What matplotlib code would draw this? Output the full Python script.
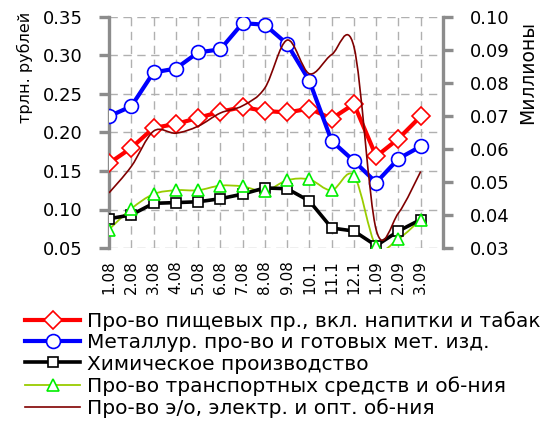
import matplotlib
matplotlib.use("Agg")
import matplotlib.pyplot as plt
from matplotlib.path import Path
from matplotlib.patches import PathPatch
from matplotlib.lines import Line2D
from matplotlib.ticker import FormatStrFormatter

# месяцы (последняя категория пустая)
months = ["1.08", "2.08", "3.08", "4.08", "5.08", "6.08", "7.08", "8.08",
          "9.08", "10.1", "11.1", "12.1", "1.09", "2.09", "3.09"]

# трлн. рублей
pishch = [0.160, 0.180, 0.206, 0.211, 0.219, 0.227, 0.233, 0.228,
          0.226, 0.231, 0.218, 0.237, 0.169, 0.192, 0.221]
metall = [0.221, 0.234, 0.278, 0.283, 0.304, 0.308, 0.342, 0.340,
          0.315, 0.267, 0.189, 0.163, 0.135, 0.166, 0.182]
khim = [0.088, 0.093, 0.108, 0.109, 0.110, 0.114, 0.120, 0.128,
        0.127, 0.111, 0.076, 0.072, 0.053, 0.072, 0.087]
transp = [0.074, 0.101, 0.120, 0.125, 0.125, 0.131, 0.130, 0.124,
          0.138, 0.139, 0.125, 0.144, 0.052, 0.062, 0.087]

# миллионы
elektr = [0.0467, 0.0547, 0.0654, 0.0648, 0.0669, 0.0709, 0.0731, 0.0785,
          0.0930, 0.0828, 0.0886, 0.0910, 0.0355, 0.0406, 0.0532]

labels = [
    "Про-во пищевых пр., вкл. напитки и табак",
    "Металлур. про-во и готовых мет. изд.",
    "Химическое производство",
    "Про-во транспортных средств и об-ния",
    "Про-во э/о, электр. и опт. об-ния",
]

GRAY = "#8c8c8c"
FS = 13


def smooth_path(xs, ys):
    # сглаженная линия как в Excel (кривые Безье)
    n = len(xs)
    verts = [(xs[0], ys[0])]
    codes = [Path.MOVETO]
    for i in range(n - 1):
        i0, i3 = max(i - 1, 0), min(i + 2, n - 1)
        c1 = (xs[i] + (xs[i + 1] - xs[i0]) / 6, ys[i] + (ys[i + 1] - ys[i0]) / 6)
        c2 = (xs[i + 1] - (xs[i3] - xs[i]) / 6, ys[i + 1] - (ys[i3] - ys[i]) / 6)
        verts += [c1, c2, (xs[i + 1], ys[i + 1])]
        codes += [Path.CURVE4] * 3
    return Path(verts, codes)


fig = plt.figure(figsize=(5.41, 4.21), dpi=100)
ax = fig.add_axes([109 / 541, 1 - 248 / 421, 334 / 541, 231 / 421])
x = list(range(len(months)))

ax.set_xlim(0, len(months))
ax.set_ylim(0.05, 0.35)
ax.set_yticks([0.05, 0.10, 0.15, 0.20, 0.25, 0.30, 0.35])
ax.yaxis.set_major_formatter(FormatStrFormatter("%.2f"))
ax.set_xticks(range(len(months) + 1))
ax.set_xticklabels(months + [""], rotation=90, fontsize=11)
ax.grid(True, color="#b0b0b0", lw=1, dashes=(6, 4))
ax.set_axisbelow(True)
for s in ["top", "bottom", "right"]:
    ax.spines[s].set_visible(False)
ax.spines["left"].set_color(GRAY)
ax.spines["left"].set_linewidth(2.4)
ax.tick_params(axis="y", direction="out", length=7, width=2.4, color=GRAY,
               labelsize=FS, pad=12)
ax.tick_params(axis="x", length=0, pad=9)

ax.plot(x, pishch, color="red", lw=3, marker="D", ms=9, mfc="white",
        mec="red", mew=1.2, zorder=4)
ax.plot(x, metall, color="blue", lw=3, marker="o", ms=10, mfc="white",
        mec="blue", mew=1.2, zorder=4)
ax.plot(x, khim, color="black", lw=2.6, marker="s", ms=7, mfc="white",
        mec="black", mew=1.2, zorder=4)
ax.add_patch(PathPatch(smooth_path(x, transp), fc="none", ec="#99cc00",
                       lw=1.3, zorder=3))
ax.plot(x, transp, ls="none", marker="^", ms=9, mfc="white", mec="#00ee00",
        mew=1.2, zorder=5)

ax2 = ax.twinx()
ax2.set_ylim(0.03, 0.10)
ax2.set_yticks([0.03, 0.04, 0.05, 0.06, 0.07, 0.08, 0.09, 0.10])
ax2.yaxis.set_major_formatter(FormatStrFormatter("%.2f"))
for s in ["top", "bottom", "left"]:
    ax2.spines[s].set_visible(False)
ax2.spines["right"].set_color(GRAY)
ax2.spines["right"].set_linewidth(2.4)
ax2.tick_params(axis="y", direction="out", length=7, width=2.4, color=GRAY,
                labelsize=FS, pad=12)
ax2.add_patch(PathPatch(smooth_path(x, elektr), fc="none", ec="#800000",
                        lw=1.2, zorder=3))

fig.text(25 / 541, 1 - 67 / 421, "трлн. рублей", rotation=90, ha="center",
         va="center", fontsize=11.5)
fig.text(528 / 541, 1 - 73 / 421, "Миллионы", rotation=90, ha="center",
         va="center", fontsize=13.5)

handles = [
    Line2D([], [], color="red", lw=3, marker="D", ms=9, mfc="white", mec="red", mew=1.2),
    Line2D([], [], color="blue", lw=3, marker="o", ms=10, mfc="white", mec="blue", mew=1.2),
    Line2D([], [], color="black", lw=2.6, marker="s", ms=7, mfc="white", mec="black", mew=1.2),
    Line2D([], [], color="#99cc00", lw=1.3, marker="^", ms=9, mfc="white", mec="#00ee00", mew=1.2),
    Line2D([], [], color="#800000", lw=1.2),
]
fig.legend(handles, labels, loc="upper left", bbox_to_anchor=(25 / 541, 1 - 311 / 421),
           frameon=False, fontsize=14.5, handlelength=2.75, handletextpad=0.33,
           labelspacing=0.12, borderpad=0, borderaxespad=0)

fig.savefig("out.png", dpi=100)
